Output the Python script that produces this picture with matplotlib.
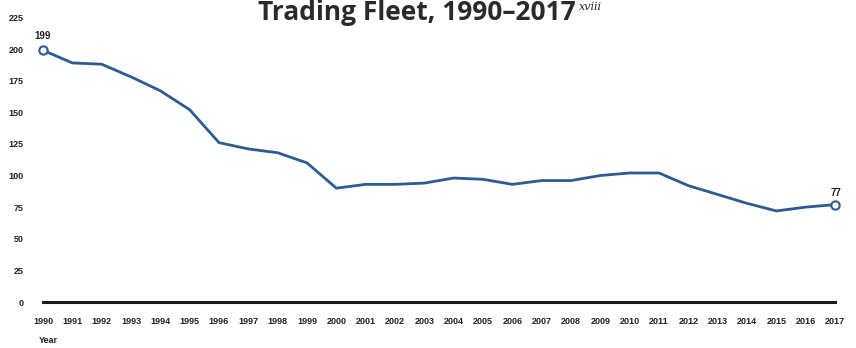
import matplotlib.pyplot as plt
import numpy as np

years = list(range(1990, 2018))
fleet = [199, 189, 188, 178, 167, 152, 126, 121, 118, 110, 90, 93, 93, 94,
         98, 97, 93, 96, 96, 100, 102, 102, 92, 85, 78, 72, 75, 77]
y_ticks = [0, 25, 50, 75, 100, 125, 150, 175, 200, 225]

line_col = '#2d5b92'
txt_col = '#222222'

fig = plt.figure(figsize=(8.56, 3.48), dpi=100)
ax = fig.add_axes([43/856, 1 - 302/348, (835 - 43)/856, (302 - 17.4)/348])

ax.plot(years, fleet, color=line_col, lw=2.0, solid_joinstyle='round', clip_on=False)
# open markers on the first and last points
ax.plot([years[0], years[-1]], [fleet[0], fleet[-1]], ls='none', marker='o', ms=6,
        mfc='white', mec=line_col, mew=1.5, clip_on=False)
ax.annotate(str(fleet[0]), (years[0], fleet[0]), xytext=(0, 7), textcoords='offset points',
            ha='center', va='bottom', fontsize=7, fontweight='bold', color=txt_col,
            family='Liberation Sans')
ax.annotate(str(fleet[-1]), (years[-1], fleet[-1]), xytext=(1, 5), textcoords='offset points',
            ha='center', va='bottom', fontsize=7, fontweight='bold', color=txt_col,
            family='Liberation Sans')

ax.set_xlim(1990, 2017)
ax.set_ylim(0, 225)
ax.set_xticks(years)
ax.set_xticklabels([str(y) for y in years])
ax.set_yticks(y_ticks)
for s in ['top', 'right', 'left']:
    ax.spines[s].set_visible(False)
ax.spines['bottom'].set_linewidth(2.2)
ax.spines['bottom'].set_color('#1e1e1e')
ax.tick_params(axis='both', length=0, labelsize=6.5, labelcolor=txt_col)
ax.tick_params(axis='x', pad=11)
ax.tick_params(axis='y', pad=14)
for lab in ax.get_xticklabels() + ax.get_yticklabels():
    lab.set_fontweight('bold')
    lab.set_family('Liberation Sans')

fig.text(39/856, 1 - 343/348, 'Year', ha='left', va='baseline', fontsize=6.5,
         fontweight='bold', color=txt_col, family='Liberation Sans')

# title, with the footnote marker as a separate small italic text
title = fig.text(258/856, 1 - 20/348, 'Trading Fleet, 1990–2017',
                 ha='left', va='baseline', fontsize=19, fontweight='bold',
                 color='#2a2a2a', family='Open Sans')
fig.canvas.draw()
bb = title.get_window_extent()
fig.text(bb.x1 / fig.bbox.width + 3/856, 1 - 10/348, 'xviii', ha='left', va='baseline',
         fontsize=8, style='italic', color='#2a2a2a', family='DejaVu Serif')

fig.savefig('out.png', dpi=100)
